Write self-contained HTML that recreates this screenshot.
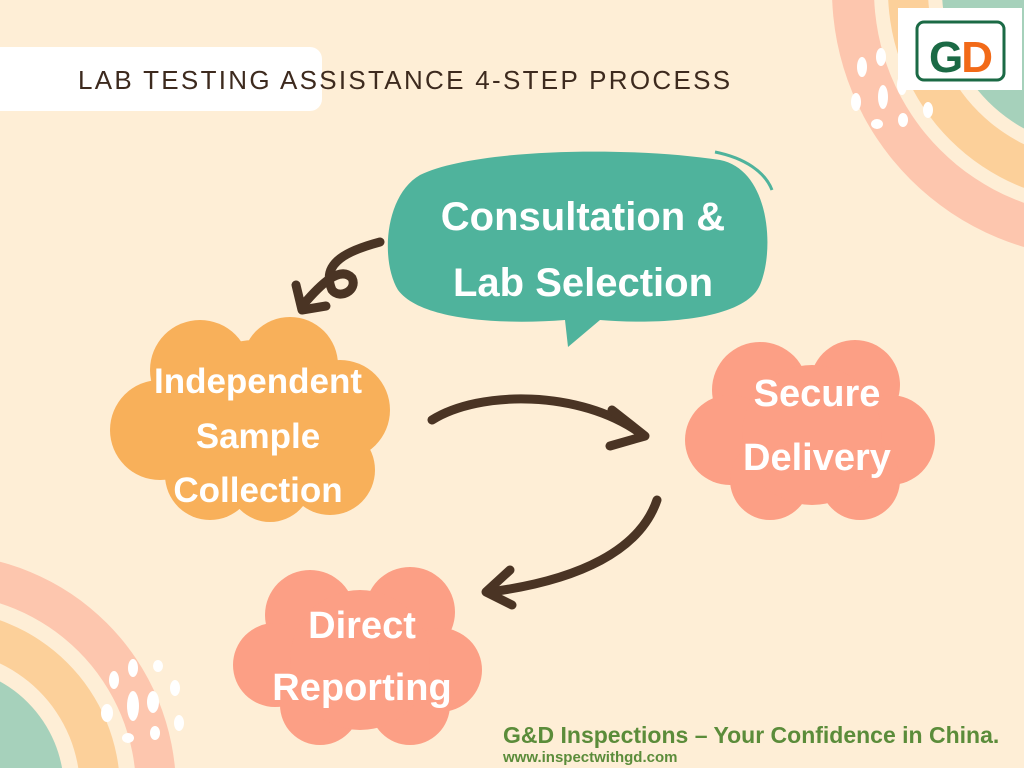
<!DOCTYPE html>
<html><head><meta charset="utf-8"><style>
html,body{margin:0;padding:0;width:1024px;height:768px;overflow:hidden}
body{background:#feeed6;font-family:"Liberation Sans",sans-serif}
svg{display:block;overflow:hidden}
</style></head><body>
<svg width="1024" height="768" viewBox="0 0 1024 768" xmlns="http://www.w3.org/2000/svg">
<defs><clipPath id="c"><rect width="1024" height="768"/></clipPath></defs>
<g clip-path="url(#c)">
<rect width="1024" height="768" fill="#feeed6"/>
<g>
<circle cx="1100" cy="-10" r="268" fill="#fdc6ae"/>
<circle cx="1100" cy="-10" r="226" fill="#feeed6"/>
<circle cx="1100" cy="-10" r="212" fill="#fcd09a"/>
<circle cx="1100" cy="-10" r="172" fill="#feeed6"/>
<circle cx="1100" cy="-10" r="158" fill="#a6d1bb"/>
</g>
<g fill="#fff">
<ellipse cx="862" cy="67" rx="5" ry="10"/><ellipse cx="881" cy="57" rx="5" ry="9"/>
<ellipse cx="883" cy="97" rx="5" ry="12"/><ellipse cx="856" cy="102" rx="5" ry="9"/>
<ellipse cx="877" cy="124" rx="6" ry="5"/><ellipse cx="903" cy="120" rx="5" ry="7"/>
<ellipse cx="928" cy="110" rx="5" ry="8"/><ellipse cx="902" cy="85" rx="5" ry="10"/>
</g>
<rect x="898" y="8" width="124" height="82" fill="#fff"/>
<rect x="917" y="22" width="87" height="58" rx="7" fill="#fff" stroke="#1b6a45" stroke-width="3"/>
<text x="960" y="72" text-anchor="middle" font-size="44" font-weight="bold" letter-spacing="-2"><tspan fill="#1b6a45">G</tspan><tspan fill="#f26a18">D</tspan></text>
<g>
<circle cx="-60" cy="790" r="236" fill="#fdc6ae"/>
<circle cx="-60" cy="790" r="196" fill="#feeed6"/>
<circle cx="-60" cy="790" r="180" fill="#fcd09a"/>
<circle cx="-60" cy="790" r="140" fill="#feeed6"/>
<circle cx="-60" cy="790" r="124" fill="#a6d1bb"/>
</g>
<g fill="#fff">
<ellipse cx="114" cy="680" rx="5" ry="9"/><ellipse cx="133" cy="668" rx="5" ry="9"/>
<ellipse cx="158" cy="666" rx="5" ry="6"/><ellipse cx="175" cy="688" rx="5" ry="8"/>
<ellipse cx="133" cy="706" rx="6" ry="15"/><ellipse cx="153" cy="702" rx="6" ry="11"/>
<ellipse cx="107" cy="713" rx="6" ry="9"/><ellipse cx="179" cy="723" rx="5" ry="8"/>
<ellipse cx="155" cy="733" rx="5" ry="7"/><ellipse cx="128" cy="738" rx="6" ry="5"/>
</g>
<rect x="-20" y="47" width="342" height="64" rx="12" fill="#fff"/>
<text x="78" y="89" font-size="26" fill="#3d2a1e" letter-spacing="2.3">LAB TESTING ASSISTANCE 4-STEP PROCESS</text>
<path d="M420 175 C470 150 620 145 720 160 C770 170 775 250 760 285 C745 320 660 325 600 320 L568 347 L565 320 C500 325 420 320 398 290 C380 260 385 195 420 175 Z" fill="#4fb39c"/>
<path d="M715 152 C745 158 765 172 772 190" fill="none" stroke="#4fb39c" stroke-width="3"/>
<text x="583" y="230" text-anchor="middle" font-size="40" font-weight="bold" fill="#fff">Consultation &amp;</text>
<text x="583" y="296" text-anchor="middle" font-size="40" font-weight="bold" fill="#fff">Lab Selection</text>
<g fill="#f8b05a">
<circle cx="200" cy="370" r="50"/><circle cx="290" cy="365" r="48"/><circle cx="340" cy="410" r="50"/>
<circle cx="160" cy="430" r="50"/><circle cx="330" cy="470" r="45"/><circle cx="210" cy="475" r="45"/>
<circle cx="270" cy="480" r="42"/><circle cx="255" cy="420" r="80"/>
</g>
<text x="258" y="393" text-anchor="middle" font-size="35" font-weight="bold" fill="#fff">Independent</text>
<text x="258" y="448" text-anchor="middle" font-size="35" font-weight="bold" fill="#fff">Sample</text>
<text x="258" y="502" text-anchor="middle" font-size="35" font-weight="bold" fill="#fff">Collection</text>
<g fill="#fc9f85">
<circle cx="760" cy="390" r="48"/><circle cx="855" cy="385" r="45"/><circle cx="890" cy="440" r="45"/>
<circle cx="730" cy="440" r="45"/><circle cx="770" cy="480" r="40"/><circle cx="860" cy="480" r="40"/>
<circle cx="812" cy="435" r="70"/>
</g>
<text x="817" y="406" text-anchor="middle" font-size="38" font-weight="bold" fill="#fff">Secure</text>
<text x="817" y="470" text-anchor="middle" font-size="38" font-weight="bold" fill="#fff">Delivery</text>
<g fill="#fc9f85">
<circle cx="310" cy="615" r="45"/><circle cx="410" cy="612" r="45"/><circle cx="440" cy="670" r="42"/>
<circle cx="275" cy="665" r="42"/><circle cx="320" cy="705" r="40"/><circle cx="410" cy="705" r="40"/>
<circle cx="360" cy="660" r="70"/>
</g>
<text x="362" y="638" text-anchor="middle" font-size="38" font-weight="bold" fill="#fff">Direct</text>
<text x="362" y="700" text-anchor="middle" font-size="38" font-weight="bold" fill="#fff">Reporting</text>
<g fill="none" stroke="#4a3424" stroke-width="9" stroke-linecap="round" stroke-linejoin="round">
<path d="M380 242 C350 250 320 262 332 290 C340 300 358 290 352 278 C340 265 320 285 303 305"/>
<path d="M296 285 L302 310 L326 306"/>
<path d="M432 420 C480 390 580 390 640 433"/>
<path d="M612 410 L645 436 L610 446"/>
<path d="M657 500 C640 550 580 580 490 592"/>
<path d="M510 570 L486 592 L512 605"/>
</g>
<text x="503" y="743" font-size="23" font-weight="bold" fill="#5b8c3a">G&amp;D Inspections – Your Confidence in China.</text>
<text x="503" y="762" font-size="15" font-weight="bold" fill="#5b8c3a">www.inspectwithgd.com</text>
</g>
</svg>
</body></html>
